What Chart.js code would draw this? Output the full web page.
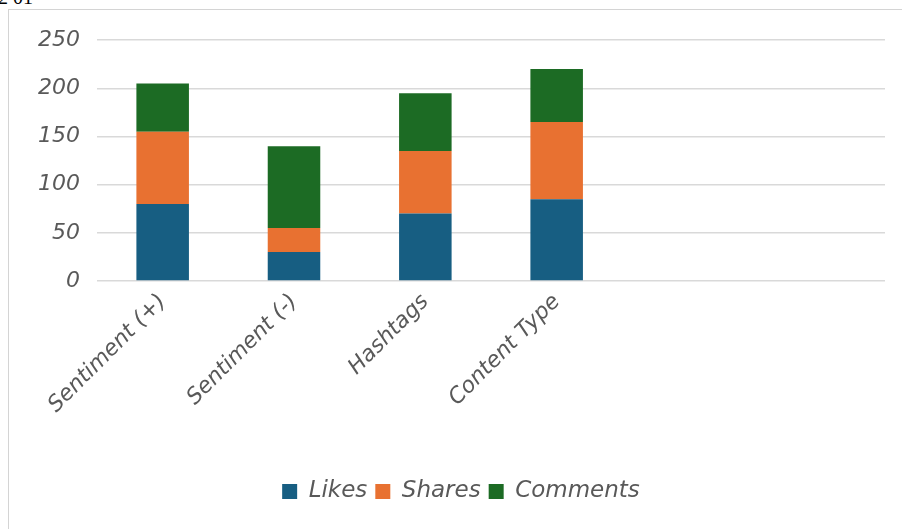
<!doctype html>
<html lang="en">
<head>
	<meta charset="utf-8">
	<title>Engagement</title>
	<style>
		body { margin: 0; background: #fff; overflow: hidden; }
		#cut { position: absolute; left: -2px; top: -14px; font: 20px "Liberation Serif", serif; color: #000; }
		#box { position: absolute; left: 8px; top: 9px; width: 910px; height: 540px; border: 1px solid #d4d4d4; }
		#wrap { position: absolute; left: 0; top: 0; width: 893px; height: 519px; }
	</style>
</head>
<body>
	<script src="https://cdn.jsdelivr.net/npm/chart.js@4/dist/chart.umd.min.js"></script>

	<div id="cut">2 01</div>
	<div id="box">
		<div id="wrap"><canvas id="myChart"></canvas></div>
	</div>

	<script>
		// values; last two slots are empty categories in the original
		var categories = ["Sentiment (+)", "Sentiment (-)", "Hashtags", "Content Type", "", ""];
		var likes = [80, 30, 70, 85, null, null];
		var shares = [75, 25, 65, 80, null, null];
		var comments = [50, 85, 60, 55, null, null];
		var yTicks = [0, 50, 100, 150, 200, 250];

		var font = "'DejaVu Sans', sans-serif";
		var grey = "#595959";

		var ctx = document.getElementById("myChart");
		var myChart = new Chart(ctx, {
			type: 'bar',
			data: {
				labels: categories,
				datasets: [{
					label: 'Likes',
					data: likes,
					backgroundColor: "#175e82"
				},
				{
					label: 'Shares',
					data: shares,
					backgroundColor: "#e87131"
				},
				{
					label: 'Comments',
					data: comments,
					backgroundColor: "#1c6b24"
				}]
			},
			options: {
				responsive: true,
				maintainAspectRatio: false,
				animation: false,
				layout: { padding: { top: 21, right: 17, left: 28, bottom: 16 } },
				datasets: { bar: { categoryPercentage: 0.4, barPercentage: 1.0 } },
				plugins: {
					tooltip: { enabled: false },
					legend: {
						position: 'bottom',
						labels: {
							boxWidth: 15,
							boxHeight: 15,
							padding: 8,
							color: grey,
							font: { family: font, size: 23, style: 'italic' }
						}
					}
				},
				scales: {
					x: {
						stacked: true,
						grid: { display: false, drawTicks: false },
						border: { display: false },
						ticks: {
							minRotation: 45,
							maxRotation: 45,
							autoSkip: false,
							padding: 8,
							color: grey,
							font: { family: font, size: 22, style: 'italic' }
						},
						afterFit: function(scale) { scale.height = 191; }
					},
					y: {
						stacked: true,
						min: 0,
						max: 250,
						afterBuildTicks: function(scale) {
							scale.ticks = yTicks.map(function(v) { return { value: v }; });
						},
						grid: { color: "#d9d9d9", lineWidth: 1.5, drawTicks: false },
						border: { display: false },
						ticks: {
							padding: 17,
							color: grey,
							font: { family: font, size: 22, style: 'italic' }
						},
						afterFit: function(scale) { scale.width = 60; }
					}
				}
			}
		});
	</script>
</body>
</html>
